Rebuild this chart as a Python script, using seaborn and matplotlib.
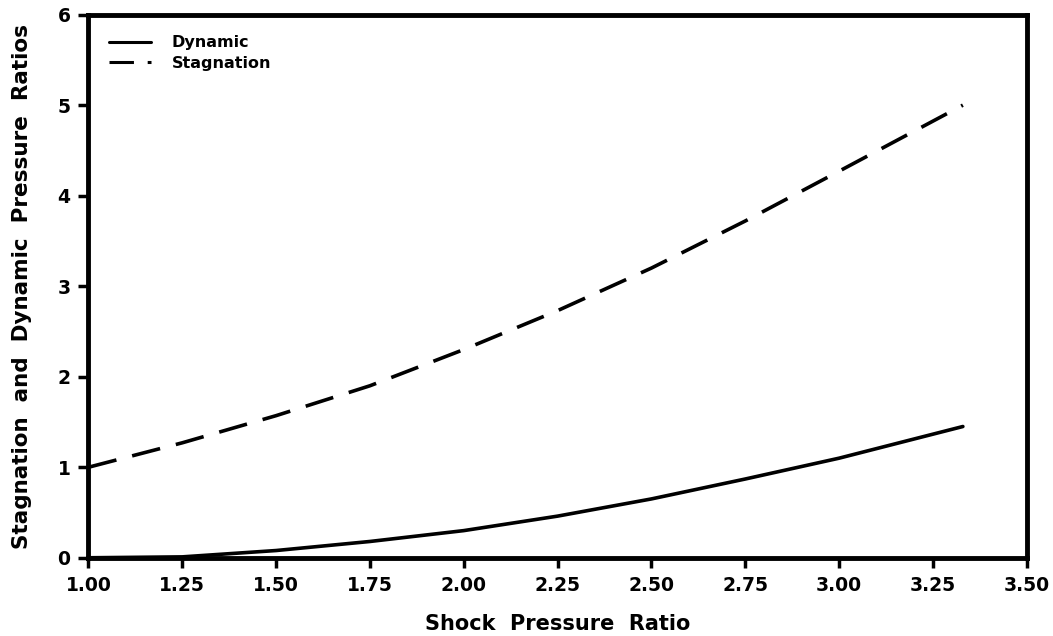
import matplotlib
matplotlib.use("Agg")
import matplotlib.pyplot as plt
import seaborn as sns
import pandas as pd

shock_ratio = [1.00, 1.25, 1.50, 1.75, 2.00, 2.25, 2.50, 2.75, 3.00, 3.33]
dynamic = [0.00, 0.01, 0.08, 0.18, 0.30, 0.46, 0.65, 0.87, 1.10, 1.45]
stagnation = [1.00, 1.27, 1.57, 1.90, 2.30, 2.73, 3.20, 3.72, 4.27, 5.00]

x_ticks = [1.00, 1.25, 1.50, 1.75, 2.00, 2.25, 2.50, 2.75, 3.00, 3.25, 3.50]
y_ticks = [0, 1, 2, 3, 4, 5, 6]

sns.set_theme(style="ticks")
plt.rcParams['font.family'] = ['DejaVu Sans']

df = pd.DataFrame({
    "x": shock_ratio * 2,
    "y": dynamic + stagnation,
    "series": ["Dynamic"] * len(shock_ratio) + ["Stagnation"] * len(shock_ratio),
})

fig, ax = plt.subplots(figsize=(10.53, 6.36), dpi=100)
fig.subplots_adjust(left=0.084, right=0.975, top=0.977, bottom=0.123)

sns.lineplot(data=df, x="x", y="y", hue="series", style="series",
             palette={"Dynamic": "black", "Stagnation": "black"},
             dashes={"Dynamic": "", "Stagnation": (8, 4.5)},
             linewidth=2.6, ax=ax, legend=True)

ax.set_xlim(1.0, 3.5)
ax.set_ylim(0, 6)
ax.set_xticks(x_ticks)
ax.set_xticklabels([f"{v:.2f}" for v in x_ticks])
ax.set_yticks(y_ticks)
ax.set_yticklabels([str(v) for v in y_ticks])
ax.tick_params(axis="both", direction="out", length=7, width=2.5,
               labelsize=13.5, color="black", labelcolor="black", pad=6)
for lab in ax.get_xticklabels() + ax.get_yticklabels():
    lab.set_fontweight("bold")
for sp in ax.spines.values():
    sp.set_linewidth(3.5)
    sp.set_color("black")

ax.set_xlabel("Shock  Pressure  Ratio", fontsize=15, fontweight="bold",
              labelpad=14, color="black")
ax.set_ylabel("Stagnation  and  Dynamic  Pressure  Ratios", fontsize=15.5,
              fontweight="bold", labelpad=18, color="black")

leg = ax.legend(loc="upper left", frameon=False, fontsize=11.5,
                handlelength=2.6, handletextpad=1.3, borderaxespad=0.9,
                labelspacing=0.35)
for line in leg.get_lines():
    line.set_linewidth(2.2)
for t in leg.get_texts():
    t.set_fontweight("bold")
    t.set_color("black")

fig.savefig("out.png", dpi=100)
